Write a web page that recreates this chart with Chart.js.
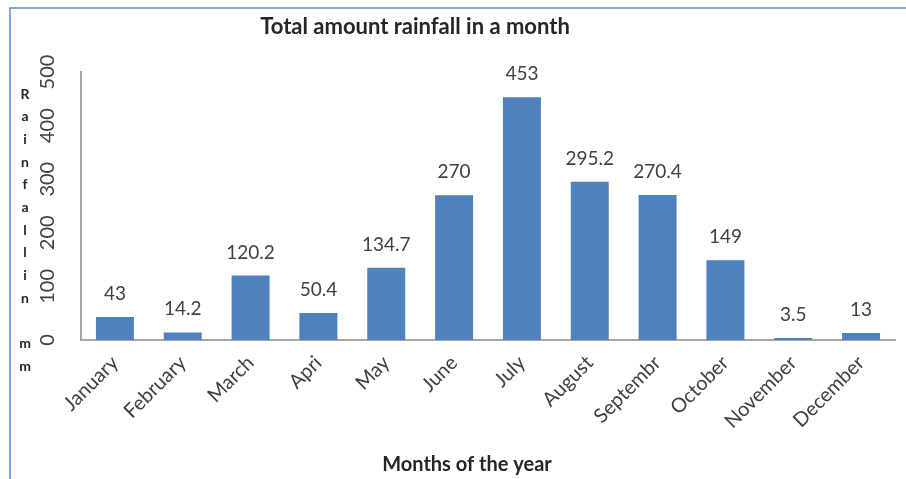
<!DOCTYPE html>
<html>
<head>
<meta charset="utf-8">
<script src="https://cdn.jsdelivr.net/npm/chart.js@4"></script>
<style>
  html, body { margin: 0; padding: 0; background: #fff; }
  #wrap { width: 906px; height: 479px; }
</style>
</head>
<body>
<div id="wrap"><canvas id="myChart"></canvas></div>
<script>
let months = ['January', 'February', 'March', 'Apri', 'May', 'June', 'July', 'August', 'Septembr', 'October', 'November', 'December'];
let rainfall = [43, 14.2, 120.2, 50.4, 134.7, 270, 453, 295.2, 270.4, 149, 3.5, 13];
let yTicks = [0, 100, 200, 300, 400, 500];
let chartTitle = 'Total amount rainfall in a month';
let xTitle = 'Months of the year';
// y title is stacked one letter per line, blank line before "mm"
let yTitleLetters = ['R', 'a', 'i', 'n', 'f', 'a', 'l', 'l', 'i', 'n', '', 'm', 'm'];

const FONT = 'Lato, "Liberation Sans", sans-serif';

// labels, titles and the frame line
let extras = {
    id: 'extras',
    beforeDraw(chart) {
        let c = chart.ctx;
        c.save();
        c.strokeStyle = '#5b8bd0';
        c.lineWidth = 1.5;
        c.beginPath();
        c.moveTo(10, 479);
        c.lineTo(10, 8);
        c.lineTo(906, 8);
        c.stroke();
        c.restore();
    },
    afterDraw(chart) {
        let c = chart.ctx;
        c.save();
        c.fillStyle = '#262626';
        c.textAlign = 'center';
        c.textBaseline = 'middle';
        c.font = 'bold 22px ' + FONT;
        c.fillText(chartTitle, 415, 27);
        c.font = 'bold 20px ' + FONT;
        c.fillText(xTitle, 467, 465);
        c.font = 'bold 14px ' + FONT;
        for (let i = 0; i < yTitleLetters.length; i++) {
            c.fillText(yTitleLetters[i], 25, 94 + i * 22.7);
        }
        // value labels
        c.fillStyle = '#404040';
        c.font = '19px ' + FONT;
        c.textBaseline = 'alphabetic';
        let meta = chart.getDatasetMeta(0);
        meta.data.forEach((bar, i) => {
            c.fillText(String(rainfall[i]), bar.x, bar.y - 17);
        });
        c.restore();
    }
};

let ctx = document.getElementById('myChart').getContext('2d');
let myChart = new Chart(ctx, {
    type: 'bar',
    data: {
        labels: [...months],
        datasets: [{
            data: [...rainfall],
            backgroundColor: '#4f81bd',
            borderWidth: 0,
            barPercentage: 0.56,
            categoryPercentage: 1
        }]
    },
    options: {
        responsive: true,
        maintainAspectRatio: false,
        animation: false,
        layout: {
            padding: { top: 72, right: 11, left: 0, bottom: 0 }
        },
        scales: {
            x: {
                grid: { display: false, drawTicks: false },
                border: { display: true, color: '#a6a6a6', width: 2 },
                ticks: {
                    color: '#404040',
                    font: { family: FONT, size: 20 },
                    minRotation: 45,
                    maxRotation: 45,
                    padding: 11
                },
                afterFit(scale) { scale.height = 139; }
            },
            y: {
                min: 0,
                max: 500,
                afterBuildTicks(scale) {
                    scale.ticks = yTicks.map(v => ({ value: v }));
                },
                grid: { display: false, drawTicks: false },
                border: { display: true, color: '#a6a6a6', width: 2 },
                ticks: {
                    color: '#404040',
                    font: { family: FONT, size: 20 },
                    minRotation: 90,
                    maxRotation: 90,
                    crossAlign: 'center',
                    padding: 16
                },
                afterFit(scale) { scale.width = 81; }
            }
        },
        plugins: {
            legend: { display: false },
            title: { display: false },
            tooltip: { enabled: false }
        }
    },
    plugins: [extras]
});
</script>
</body>
</html>
